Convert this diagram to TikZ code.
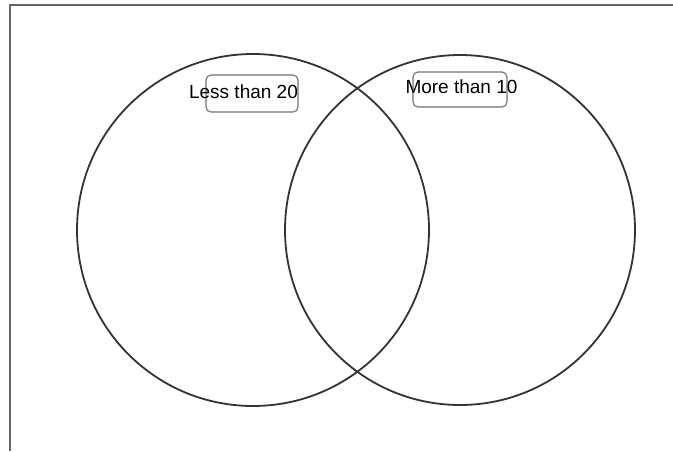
\documentclass[tikz,border=0pt]{standalone}
\usepackage{fontspec}
\setmainfont{Liberation Sans}
\usepackage{tikz}
\usetikzlibrary{positioning, arrows.meta}

\tikzset{
  setring/.style={draw=black!80, line width=1.8pt, circle, inner sep=0pt},
  tagbox/.style={draw=black!55, line width=1.1pt, rounded corners=5pt, inner sep=0pt},
  tagtext/.style={font=\fontsize{19}{21}\selectfont, text=black, inner sep=0pt}
}

\begin{document}
\begin{tikzpicture}[x=1pt, y=-1pt]

% Рамка листа
\useasboundingbox (0,0) rectangle (673,451);
\fill[white] (0,0) rectangle (673,451);
\draw[black!60, line width=2pt] (673,4.5) -- (10,4.5) -- (10,451);

% Круги
\node[setring, minimum size=352pt] (left) at (253,230) {};
\node[setring, minimum size=350pt] (right) at (460,230) {};

% Рамки подписей
\node[tagbox, minimum width=92pt, minimum height=37pt] (lbox) at (252,93.5) {};
\node[tagbox, minimum width=94pt, minimum height=35pt] (rbox) at (460,89.5) {};

% Подписи
\node[tagtext] (ltag) at (243.5,92) {Less than 20};
\node[tagtext] (rtag) at (461.5,87) {More than 10};

\end{tikzpicture}
\end{document}
